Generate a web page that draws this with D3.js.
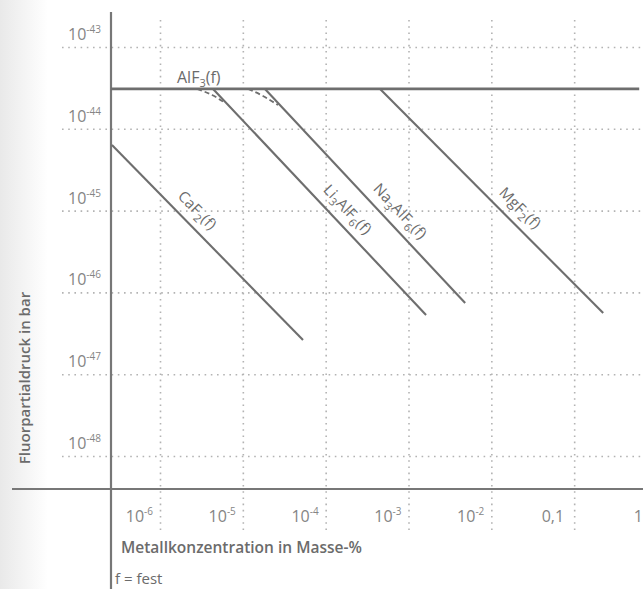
<script src="https://cdn.jsdelivr.net/npm/d3@7"></script>
<style>
  body { margin: 0; background: #fff; }
  text { font-family: "Open Sans", "Noto Sans", sans-serif; fill: #6b6b6b; }
</style>
<div id="vis"></div>
<script>
  // tick values and labels
  var xTicks = [1e-6, 1e-5, 1e-4, 1e-3, 1e-2, 1e-1, 1];
  var xTickBase = ['10', '10', '10', '10', '10', '0,1', '1'];
  var xTickSup = ['-6', '-5', '-4', '-3', '-2', '', ''];
  var yTicks = [1e-43, 1e-44, 1e-45, 1e-46, 1e-47, 1e-48];
  var yTickSup = ['-43', '-44', '-45', '-46', '-47', '-48'];

  // lines (x: Masse-%, y: bar)
  var alf3X = [2.56e-7, 0.61];
  var alf3Y = [3.07e-44, 3.07e-44];
  var caf2X = [2.63e-7, 5.33e-5];
  var caf2Y = [6.34e-45, 2.62e-47];
  var li3alf6X = [4.37e-6, 1.63e-3];
  var li3alf6Y = [3.07e-44, 5.30e-47];
  var na3alf6X = [1.85e-5, 4.83e-3];
  var na3alf6Y = [3.07e-44, 7.41e-47];
  var mgf2X = [4.54e-4, 0.224];
  var mgf2Y = [3.07e-44, 5.60e-47];
  // dashed transitions
  var li3alf6DashX = [2.80e-6, 4.25e-6, 6.10e-6];
  var li3alf6DashY = [3.07e-44, 2.59e-44, 2.07e-44];
  var na3alf6DashX = [1.16e-5, 1.75e-5, 2.66e-5];
  var na3alf6DashY = [3.07e-44, 2.52e-44, 1.95e-44];

  var W = 643, H = 589;
  var lineCol = '#6e6e6e';

  var svg = d3.select('#vis').append('svg')
    .attr('width', W).attr('height', H);

  // scan shading on the left edge
  var grad = svg.append('defs').append('linearGradient').attr('id', 'shade');
  grad.append('stop').attr('offset', '0%').attr('stop-color', '#e9e9e9');
  grad.append('stop').attr('offset', '100%').attr('stop-color', '#ffffff');
  svg.append('rect').attr('x', 0).attr('y', 0).attr('width', 48).attr('height', H)
    .style('fill', 'url(#shade)');

  var x = d3.scaleLog().domain([1e-6, 1]).range([160, 657]);
  var y = d3.scaleLog().domain([1e-43, 1e-48]).range([47, 456]);

  // horizontal dotted grid + y labels
  var gy = svg.append('g')
    .attr('transform', 'translate(62,0)')
    .call(d3.axisLeft(y).tickValues(yTicks).tickSize(-(W - 62)).tickFormat(''));
  gy.select('.domain').remove();
  gy.selectAll('.tick line')
    .attr('stroke', '#b3b3b3').attr('stroke-width', 1.6)
    .attr('stroke-dasharray', '1.6 4.6');

  yTicks.forEach(function(v, i) {
    var t = svg.append('text')
      .attr('x', 101).attr('y', y(v) - 7)
      .attr('text-anchor', 'end')
      .style('font-size', '16px').style('fill', '#858585');
    t.append('tspan').text('10');
    t.append('tspan').attr('dy', -7).style('font-size', '10px').text(yTickSup[i]);
  });

  // vertical dotted grid + x labels
  var gx = svg.append('g')
    .attr('transform', 'translate(0,530)')
    .call(d3.axisBottom(x).tickValues(xTicks).tickSize(-510).tickFormat(''));
  gx.select('.domain').remove();
  gx.selectAll('.tick line')
    .attr('stroke', '#b3b3b3').attr('stroke-width', 1.6)
    .attr('stroke-dasharray', '1.6 4.6');

  xTicks.forEach(function(v, i) {
    var xp = Math.min(x(v) - (xTickSup[i] ? 7 : 10), W);
    var t = svg.append('text')
      .attr('x', xp).attr('y', 522)
      .attr('text-anchor', 'end')
      .style('font-size', '16px').style('fill', '#858585');
    t.append('tspan').text(xTickBase[i]);
    if (xTickSup[i]) {
      t.append('tspan').attr('dy', -7).style('font-size', '10px').text(xTickSup[i]);
    }
  });

  // axis lines
  svg.append('line').attr('x1', 111).attr('x2', 111).attr('y1', 12).attr('y2', H)
    .attr('stroke', '#777').attr('stroke-width', 2.2);
  svg.append('line').attr('x1', 12).attr('x2', W).attr('y1', 489).attr('y2', 489)
    .attr('stroke', '#777').attr('stroke-width', 2.2);

  // data lines
  var line = d3.line()
    .x(function(d) { return x(d[0]); })
    .y(function(d) { return y(d[1]); });

  function pts(xs, ys) { return xs.map(function(v, i) { return [v, ys[i]]; }); }

  svg.append('path').attr('d', line(pts(alf3X, alf3Y)))
    .attr('fill', 'none').attr('stroke', lineCol).attr('stroke-width', 2.8);

  var series = [
    { xs: caf2X, ys: caf2Y, t: 0.39, parts: [['CaF', 0], ['2', 1], ['(f)', 0]] },
    { xs: li3alf6X, ys: li3alf6Y, t: 0.58, parts: [['Li', 0], ['3', 1], ['AlF', 0], ['6', 1], ['(f)', 0]] },
    { xs: na3alf6X, ys: na3alf6Y, t: 0.62, parts: [['Na', 0], ['3', 1], ['AlF', 0], ['6', 1], ['(f)', 0]] },
    { xs: mgf2X, ys: mgf2Y, t: 0.58, parts: [['MgF', 0], ['2', 1], ['(f)', 0]] }
  ];

  function subText(t, parts) {
    var shift = 0;
    parts.forEach(function(p) {
      var dy = p[1] ? 4 - shift : -shift;
      shift = p[1] ? 4 : 0;
      t.append('tspan').attr('dy', dy)
        .style('font-size', p[1] ? '11px' : null).text(p[0]);
    });
  }

  series.forEach(function(s) {
    svg.append('path').attr('d', line(pts(s.xs, s.ys)))
      .attr('fill', 'none').attr('stroke', lineCol).attr('stroke-width', 2.1);

    var x0 = x(s.xs[0]), y0 = y(s.ys[0]), x1 = x(s.xs[1]), y1 = y(s.ys[1]);
    var dx = x1 - x0, dy = y1 - y0, len = Math.sqrt(dx * dx + dy * dy);
    var cx = x0 + s.t * dx + 15 * dy / len;
    var cy = y0 + s.t * dy - 15 * dx / len;
    var ang = Math.atan2(dy, dx) * 180 / Math.PI;
    var t = svg.append('text')
      .attr('transform', 'translate(' + cx + ',' + cy + ') rotate(' + ang + ')')
      .attr('text-anchor', 'middle').attr('y', 5)
      .style('font-size', '15px').style('letter-spacing', '0.3px');
    subText(t, s.parts);
  });

  var dashLine = line.curve(d3.curveNatural);
  [[li3alf6DashX, li3alf6DashY], [na3alf6DashX, na3alf6DashY]].forEach(function(d) {
    svg.append('path').attr('d', dashLine(pts(d[0], d[1])))
      .attr('fill', 'none').attr('stroke', lineCol).attr('stroke-width', 1.8)
      .attr('stroke-dasharray', '5 3');
  });

  // AlF3 label
  var at = svg.append('text').attr('x', 177).attr('y', y(alf3Y[0]) - 6)
    .style('font-size', '16px');
  subText(at, [['AlF', 0], ['3', 1], ['(f)', 0]]);

  // axis titles
  svg.append('text')
    .attr('transform', 'translate(30,378) rotate(-90)')
    .attr('text-anchor', 'middle')
    .style('font-size', '15px').style('font-weight', 600)
    .text('Fluorpartialdruck in bar');

  svg.append('text').attr('x', 121).attr('y', 553)
    .style('font-size', '15.5px').style('font-weight', 600)
    .text('Metallkonzentration in Masse-%');

  svg.append('text').attr('x', 115).attr('y', 584)
    .style('font-size', '15px')
    .text('f = fest');
</script>
